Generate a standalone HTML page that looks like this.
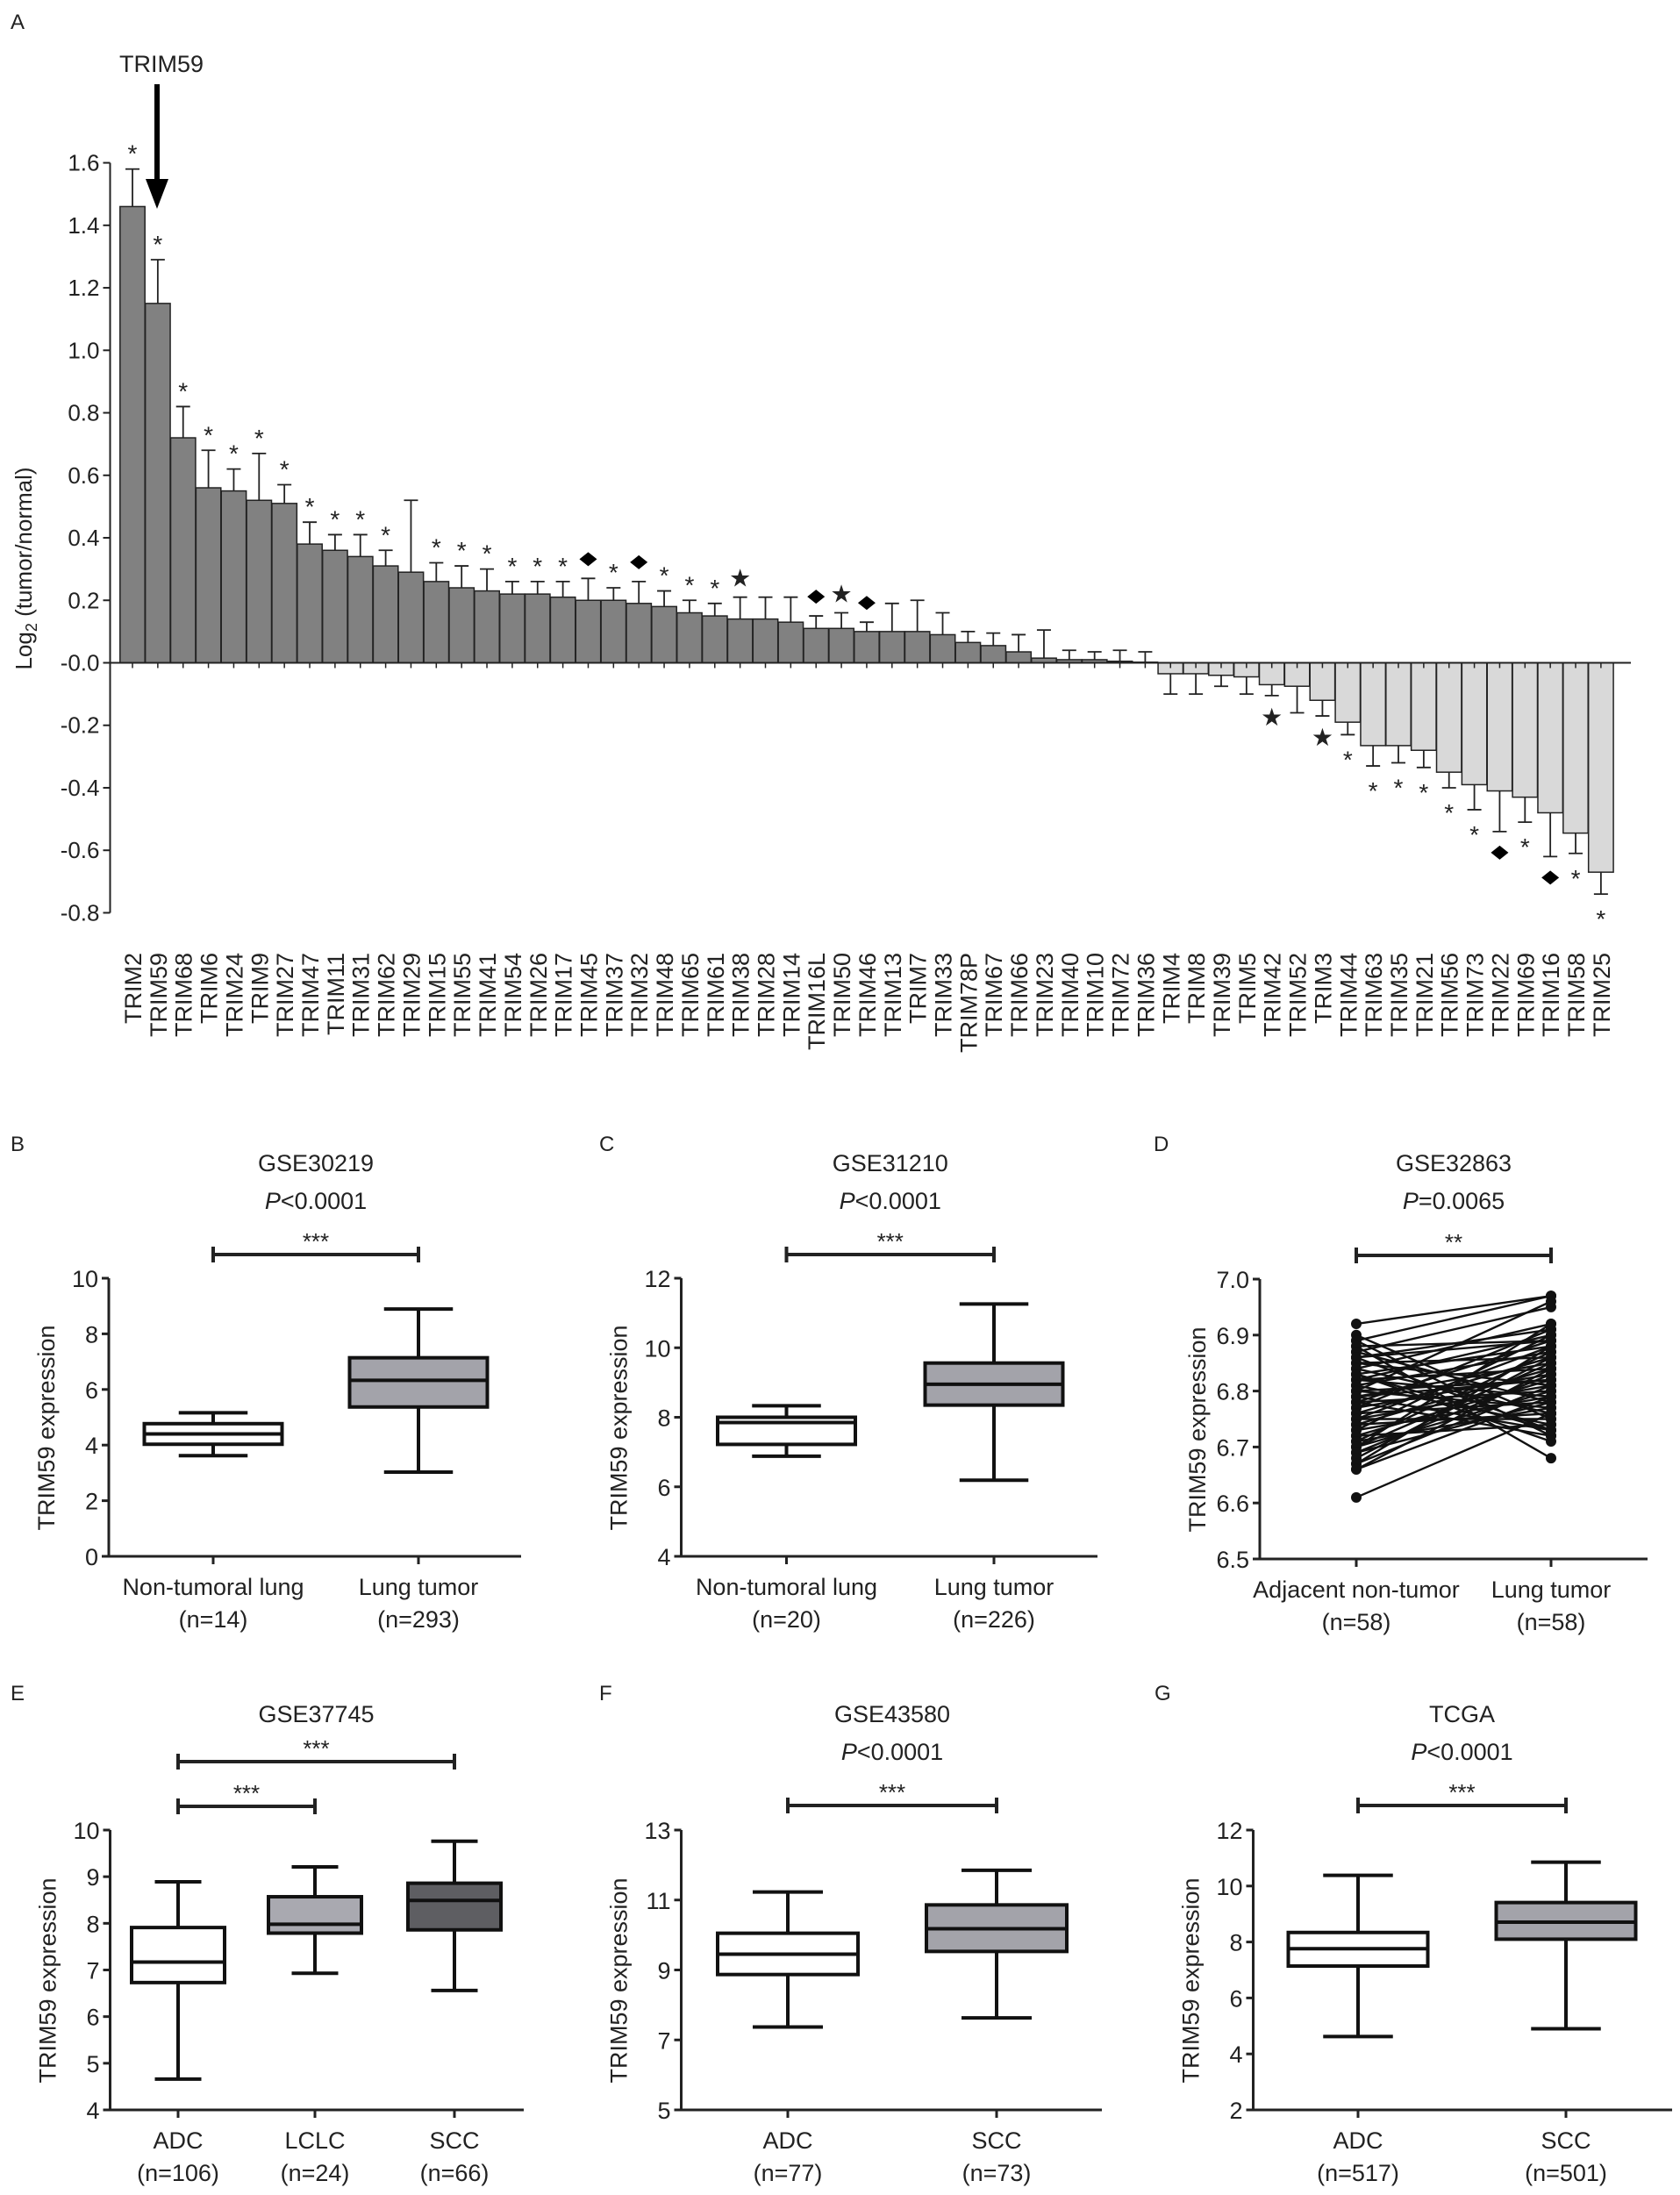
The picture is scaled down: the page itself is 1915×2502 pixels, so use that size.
<!DOCTYPE html>
<html><head><meta charset="utf-8"><style>
html,body{margin:0;padding:0;background:#fff}
svg{display:block}
text{font-family:"Liberation Sans",Arial,sans-serif;fill:#222}
</style></head><body>
<svg id="fig" width="1915" height="2502" viewBox="0 0 1915 2502" xmlns="http://www.w3.org/2000/svg"></svg>
<script>
// ---------- Panel A data ----------
const genes = ["TRIM2","TRIM59","TRIM68","TRIM6","TRIM24","TRIM9","TRIM27","TRIM47","TRIM11","TRIM31","TRIM62","TRIM29","TRIM15","TRIM55","TRIM41","TRIM54","TRIM26","TRIM17","TRIM45","TRIM37","TRIM32","TRIM48","TRIM65","TRIM61","TRIM38","TRIM28","TRIM14","TRIM16L","TRIM50","TRIM46","TRIM13","TRIM7","TRIM33","TRIM78P","TRIM67","TRIM66","TRIM23","TRIM40","TRIM10","TRIM72","TRIM36","TRIM4","TRIM8","TRIM39","TRIM5","TRIM42","TRIM52","TRIM3","TRIM44","TRIM63","TRIM35","TRIM21","TRIM56","TRIM73","TRIM22","TRIM69","TRIM16","TRIM58","TRIM25"];
const foldMeans = [1.46,1.15,0.72,0.56,0.55,0.52,0.51,0.38,0.36,0.34,0.31,0.29,0.26,0.24,0.23,0.22,0.22,0.21,0.20,0.20,0.19,0.18,0.16,0.15,0.14,0.14,0.13,0.11,0.11,0.10,0.10,0.10,0.09,0.065,0.055,0.035,0.015,0.01,0.01,0.005,0.002,-0.035,-0.035,-0.04,-0.045,-0.07,-0.075,-0.12,-0.19,-0.265,-0.265,-0.28,-0.35,-0.39,-0.41,-0.43,-0.48,-0.545,-0.67];
const foldErrEnds = [1.58,1.29,0.82,0.68,0.62,0.67,0.57,0.45,0.41,0.41,0.36,0.52,0.32,0.31,0.30,0.26,0.26,0.26,0.27,0.24,0.26,0.23,0.20,0.19,0.21,0.21,0.21,0.15,0.16,0.13,0.19,0.20,0.16,0.10,0.095,0.09,0.105,0.04,0.035,0.04,0.035,-0.10,-0.10,-0.075,-0.10,-0.105,-0.16,-0.17,-0.23,-0.33,-0.32,-0.335,-0.40,-0.47,-0.54,-0.51,-0.62,-0.61,-0.74];
const sigMarks = ["*","*","*","*","*","*","*","*","*","*","*","","*","*","*","*","*","*","D","*","D","*","*","*","S","","","D","S","D","","","","","","","","","","","","","","","","S","","S","*","*","*","*","*","*","D","*","D","*","*"];
const aTicks = [1.6,1.4,1.2,1.0,0.8,0.6,0.4,0.2,0.0,-0.2,-0.4,-0.6,-0.8];
const aTickLabels = ["1.6","1.4","1.2","1.0","0.8","0.6","0.4","0.2","-0.0","-0.2","-0.4","-0.6","-0.8"];

// ---------- Box panels data ----------
const bCats = ["Non-tumoral lung","Lung tumor"]; const bNs = ["(n=14)","(n=293)"];
const bStats = [[3.62,4.03,4.40,4.77,5.16],[3.03,5.37,6.33,7.14,8.89]];
const cCats = ["Non-tumoral lung","Lung tumor"]; const cNs = ["(n=20)","(n=226)"];
const cStats = [[6.88,7.22,7.85,8.00,8.33],[6.19,8.35,8.95,9.56,11.26]];
const eCats = ["ADC","LCLC","SCC"]; const eNs = ["(n=106)","(n=24)","(n=66)"];
const eStats = [[4.66,6.73,7.17,7.91,8.89],[6.93,7.79,7.98,8.57,9.21],[6.56,7.86,8.49,8.86,9.76]];
const fCats = ["ADC","SCC"]; const fNs = ["(n=77)","(n=73)"];
const fStats = [[7.37,8.87,9.45,10.05,11.23],[7.63,9.53,10.18,10.86,11.85]];
const gCats = ["ADC","SCC"]; const gNs = ["(n=517)","(n=501)"];
const gStats = [[4.62,7.14,7.76,8.34,10.38],[4.90,8.10,8.71,9.41,10.85]];

// ---------- Paired panel D data ----------
const dCats = ["Adjacent non-tumor","Lung tumor"]; const dNs = ["(n=58)","(n=58)"];
const dBefore = [6.92,6.90,6.89,6.89,6.88,6.88,6.87,6.87,6.86,6.86,6.85,6.85,6.84,6.84,6.83,6.83,6.82,6.82,6.82,6.81,6.81,6.80,6.80,6.80,6.79,6.79,6.78,6.78,6.78,6.77,6.77,6.76,6.76,6.75,6.75,6.75,6.74,6.74,6.73,6.73,6.72,6.72,6.71,6.71,6.70,6.70,6.70,6.69,6.69,6.68,6.67,6.67,6.66,6.66,6.86,6.83,6.79,6.61];
const dAfter = [6.97,6.75,6.97,6.72,6.89,6.68,6.95,6.78,6.91,6.73,6.86,6.81,6.92,6.76,6.88,6.71,6.84,6.79,6.90,6.74,6.87,6.82,6.77,6.96,6.85,6.73,6.89,6.80,6.72,6.83,6.91,6.78,6.86,6.75,6.88,6.81,6.84,6.76,6.79,6.90,6.82,6.74,6.87,6.77,6.85,6.80,6.92,6.83,6.78,6.86,6.81,6.88,6.84,6.79,6.89,6.73,6.82,6.76];

const NS="http://www.w3.org/2000/svg";
const svg=document.getElementById('fig');
function mk(tag,attrs,parent){const e=document.createElementNS(NS,tag);for(const k in attrs)e.setAttribute(k,attrs[k]);(parent||svg).appendChild(e);return e;}
function txt(s,attrs,parent){const e=mk('text',attrs,parent);e.textContent=s;return e;}
function grp(name){const g=mk('g',{});


return g;}

// ================= Panel A =================
(function(){
  const g=grp('panel-a');
  const y0=755.5, per=71.24/0.2, axX=125.5, x0=151, step=28.86, bw=28.4;
  const ys=v=>y0-v*per; const xs=i=>x0+i*step;
  const lab=txt('A',{x:12,y:33,'font-size':24},g);
  
  
  // y axis
  const ax=mk('line',{x1:axX,y1:ys(1.6),x2:axX,y2:ys(-0.8),stroke:'#222','stroke-width':2},g);
  
  
  aTicks.forEach((t,i)=>{
    mk('line',{x1:axX-8,y1:ys(t),x2:axX,y2:ys(t),stroke:'#222','stroke-width':2},g);
    const tl=txt(aTickLabels[i],{x:axX-12,y:ys(t)+9,'font-size':26,'text-anchor':'end'},g);
    
    
  });
  const yt=txt('',{transform:'translate(36,648) rotate(-90)','font-size':26,'text-anchor':'middle'},g);
  yt.innerHTML='Log<tspan font-size="18" dy="6">2</tspan><tspan dy="-6"> (tumor/normal)</tspan>';
  
  
  // bars
  genes.forEach((gn,i)=>{
    const v=foldMeans[i], e=foldErrEnds[i], cx=xs(i);
    const top=Math.min(ys(v),y0), h=Math.abs(ys(v)-y0);
    const r=mk('rect',{x:cx-bw/2,y:top,width:bw,height:Math.max(h,0.5),fill:v>=0?'#818181':'#d9d9d9',stroke:'#222','stroke-width':1.5},g);
    
    
    mk('line',{x1:cx,y1:ys(v),x2:cx,y2:ys(e),stroke:'#222','stroke-width':1.8},g);
    mk('line',{x1:cx-8,y1:ys(e),x2:cx+8,y2:ys(e),stroke:'#222','stroke-width':1.8},g);
    mk('line',{x1:cx,y1:y0,x2:cx,y2:y0+6,stroke:'#222','stroke-width':1.5},g);
    const m=sigMarks[i];
    if(m){
      const my = v>=0 ? ys(e)-22 : ys(e)+24;
      let mEl;
      if(m==='*') mEl=txt('*',{x:cx,y:my+14,'font-size':28,'text-anchor':'middle'},g);
      else if(m==='S') mEl=txt('★',{x:cx,y:my+10,'font-size':28,'text-anchor':'middle',fill:'#000'},g);
      else mEl=mk('polygon',{points:`${cx},${my-8} ${cx+10},${my} ${cx},${my+8} ${cx-10},${my}`,fill:'#000'},g);
      
      
    }
    const t=txt(gn,{transform:`translate(${cx+10},1086) rotate(-90)`,'font-size':27,'text-anchor':'end'},g);
    
    
  });
  const zl=mk('line',{x1:axX,y1:y0,x2:1859,y2:y0,stroke:'#222','stroke-width':2},g);
  
  
  // TRIM59 arrow
  const at=txt('TRIM59',{x:136,y:82,'font-size':27},g);
  
  
  mk('line',{x1:179,y1:96,x2:179,y2:208,stroke:'#000','stroke-width':6},g);
  const ah=mk('polygon',{points:'166,204 192,204 179,238',fill:'#000'},g);
  
  
})();

// ================= Box panels =================
function boxPanel(o){
  const g=grp(o.name);
  const ys=v=>o.yBot-(v-o.ymin)/(o.ymax-o.ymin)*(o.yBot-o.yTop);
  const l=txt(o.letter,{x:o.letterX,y:o.letterY,'font-size':24},g);
  
  
  const tc=(o.cx[0]+o.cx[o.cx.length-1])/2;
  const tt=txt(o.title,{x:tc,y:o.titleY,'font-size':27,'text-anchor':'middle'},g);
  
  
  if(o.p){const pt=txt('',{x:tc,y:o.titleY+43,'font-size':27,'text-anchor':'middle'},g);
    pt.innerHTML='<tspan font-style="italic">P</tspan>'+o.p;
    
    }
  o.brackets.forEach(b=>{
    const x1=o.cx[b[0]],x2=o.cx[b[1]];
    const br=mk('path',{d:`M${x1},${b[2]-9}V${b[2]+9}M${x1},${b[2]}H${x2}M${x2},${b[2]-9}V${b[2]+9}`,stroke:'#222','stroke-width':4,fill:'none'},g);
    
    
    const s=txt(b[3],{x:(x1+x2)/2,y:b[2]-6,'font-size':26,'text-anchor':'middle'},g);
    
    
  });
  // axes
  mk('line',{x1:o.axX,y1:o.yTop,x2:o.axX,y2:o.yBot,stroke:'#222','stroke-width':3},g);
  mk('line',{x1:o.axX-8,y1:o.yBot,x2:o.xEnd,y2:o.yBot,stroke:'#222','stroke-width':3},g);
  o.ticks.forEach((t,i)=>{
    mk('line',{x1:o.axX-8,y1:ys(t),x2:o.axX,y2:ys(t),stroke:'#222','stroke-width':3},g);
    const tl=txt(o.tickLabels[i],{x:o.axX-12,y:ys(t)+10,'font-size':27,'text-anchor':'end'},g);
    
    
  });
  const yt=txt('TRIM59 expression',{transform:`translate(${o.axX-62},${(o.yTop+o.yBot)/2+12}) rotate(-90)`,'font-size':27,'text-anchor':'middle'},g);
  
  
  o.cats.forEach((c,i)=>{
    const x=o.cx[i];
    mk('line',{x1:x,y1:o.yBot,x2:x,y2:o.yBot+9,stroke:'#222','stroke-width':3},g);
    const a=txt(c,{x:x,y:o.yBot+44,'font-size':27,'text-anchor':'middle'},g);
    
    
    const b=txt(o.ns[i],{x:x,y:o.yBot+81,'font-size':27,'text-anchor':'middle'},g);
    
    
  });
  if(o.stats){
    o.stats.forEach((s,i)=>{
      const x=o.cx[i],hw=o.bw/2,cw=o.bw/4;
      const bg=mk('g',{},g);
      
      
      mk('path',{d:`M${x},${ys(s[0])}V${ys(s[1])}M${x},${ys(s[3])}V${ys(s[4])}M${x-cw},${ys(s[0])}H${x+cw}M${x-cw},${ys(s[4])}H${x+cw}`,stroke:'#111','stroke-width':4,fill:'none'},bg);
      mk('rect',{x:x-hw,y:ys(s[3]),width:o.bw,height:ys(s[1])-ys(s[3]),fill:o.fills[i],stroke:'#111','stroke-width':4},bg);
      mk('line',{x1:x-hw,y1:ys(s[2]),x2:x+hw,y2:ys(s[2]),stroke:'#111','stroke-width':4},bg);
    });
  }
  if(o.paired){
    const n=Math.min(o.paired[0].length,o.paired[1].length);
    for(let i=0;i<n;i++){
      const ln=mk('line',{x1:o.cx[0],y1:ys(o.paired[0][i]),x2:o.cx[1],y2:ys(o.paired[1][i]),stroke:'#111','stroke-width':2.4},g);
      
      
    }
    for(let i=0;i<n;i++){
      const p1=mk('circle',{cx:o.cx[0],cy:ys(o.paired[0][i]),r:6,fill:'#111'},g);
      
      
      const p2=mk('circle',{cx:o.cx[1],cy:ys(o.paired[1][i]),r:6,fill:'#111'},g);
      
      
    }
  }
}
boxPanel({name:'panel-b',letter:'B',letterX:12,letterY:1312,title:'GSE30219',titleY:1335,p:'<0.0001',
  brackets:[[0,1,1430,'***']],axX:124,yTop:1457,yBot:1774,ymin:0,ymax:10,xEnd:594,
  ticks:[0,2,4,6,8,10],tickLabels:['0','2','4','6','8','10'],cats:bCats,ns:bNs,cx:[243,477],bw:157,stats:bStats,fills:['#ffffff','#a3a3aa']});
boxPanel({name:'panel-c',letter:'C',letterX:683,letterY:1312,title:'GSE31210',titleY:1335,p:'<0.0001',
  brackets:[[0,1,1430,'***']],axX:776.5,yTop:1457,yBot:1774,ymin:4,ymax:12,xEnd:1251,
  ticks:[4,6,8,10,12],tickLabels:['4','6','8','10','12'],cats:cCats,ns:cNs,cx:[896.5,1133],bw:157,stats:cStats,fills:['#ffffff','#a3a3aa']});
boxPanel({name:'panel-d',letter:'D',letterX:1315,letterY:1312,title:'GSE32863',titleY:1335,p:'=0.0065',
  brackets:[[0,1,1431,'**']],axX:1436,yTop:1458,yBot:1777,ymin:6.5,ymax:7.0,xEnd:1878,
  ticks:[6.5,6.6,6.7,6.8,6.9,7.0],tickLabels:['6.5','6.6','6.7','6.8','6.9','7.0'],cats:dCats,ns:dNs,cx:[1546,1768],paired:[dBefore,dAfter]});
boxPanel({name:'panel-e',letter:'E',letterX:12,letterY:1938,title:'GSE37745',titleY:1963,p:null,
  brackets:[[0,2,2008,'***'],[0,1,2059,'***']],axX:125.5,yTop:2086,yBot:2405,ymin:4,ymax:10,xEnd:597,
  ticks:[4,5,6,7,8,9,10],tickLabels:['4','5','6','7','8','9','10'],cats:eCats,ns:eNs,cx:[203,359,518],bw:106,stats:eStats,fills:['#ffffff','#a9a9b0','#5e5e62']});
boxPanel({name:'panel-f',letter:'F',letterX:683,letterY:1938,title:'GSE43580',titleY:1963,p:'<0.0001',
  brackets:[[0,1,2058,'***']],axX:776.5,yTop:2086,yBot:2405,ymin:5,ymax:13,xEnd:1256,
  ticks:[5,7,9,11,13],tickLabels:['5','7','9','11','13'],cats:fCats,ns:fNs,cx:[898,1136],bw:160,stats:fStats,fills:['#ffffff','#a3a3aa']});
boxPanel({name:'panel-g',letter:'G',letterX:1316,letterY:1938,title:'TCGA',titleY:1963,p:'<0.0001',
  brackets:[[0,1,2058,'***']],axX:1428.5,yTop:2086,yBot:2405,ymin:2,ymax:12,xEnd:1906,
  ticks:[2,4,6,8,10,12],tickLabels:['2','4','6','8','10','12'],cats:gCats,ns:gNs,cx:[1548,1785],bw:159,stats:gStats,fills:['#ffffff','#a3a3aa']});
</script>
</body></html>
